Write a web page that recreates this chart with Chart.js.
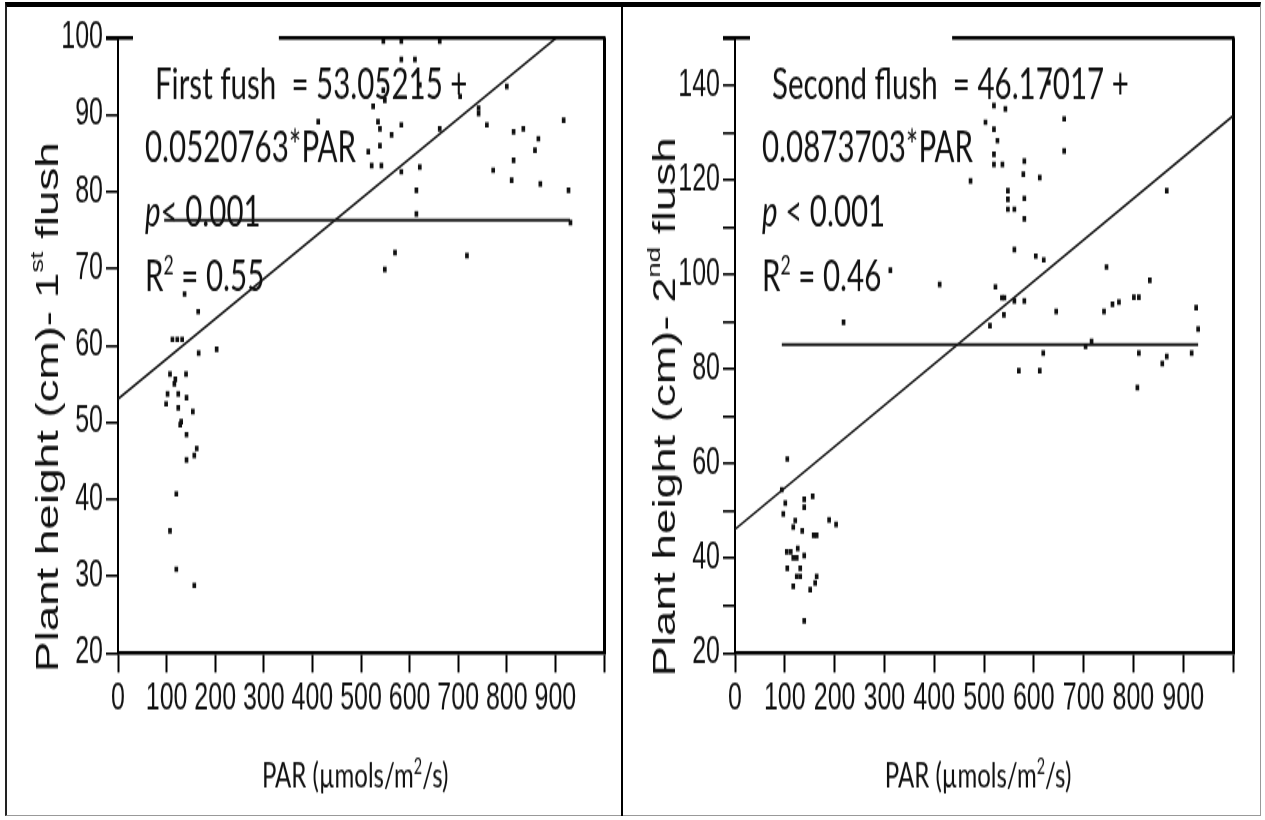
<!DOCTYPE html>
<html>
<head>
<meta charset="utf-8">
<script src="https://cdn.jsdelivr.net/npm/chart.js@4.4.1/dist/chart.umd.min.js"></script>
<style>
    html, body { margin: 0; padding: 0; background: #fff; }
    .page { position: relative; width: 1265px; height: 820px; overflow: hidden; }
    .frame {
        position: absolute; left: 5px; top: 2px; width: 1256px; height: 814px;
        box-sizing: border-box;
        border-top: 5px solid #000; border-left: 2px solid #222;
        border-right: 1px solid #999; border-bottom: 1px solid #999;
    }
    .divider { position: absolute; left: 621px; top: 2px; width: 2px; height: 814px; background: #000; }
    canvas { position: absolute; top: 0; }
</style>
</head>
<body>
<div class="page">
    <div class="frame"></div>
    <div class="divider"></div>
    <!-- the source figure is stretched 1.5x vertically, so the bitmaps are drawn 544 tall and shown 816 tall -->
    <canvas id="chart-first" width="615" height="544" style="left:7px;width:615px;height:816px"></canvas>
    <canvas id="chart-second" width="635" height="544" style="left:624px;width:635px;height:816px"></canvas>
</div>

<script>
// PAR (µmols/m2/s) and plant height (cm), first flush
const firstPar = [137, 165, 112, 122, 132, 166, 203, 107, 140, 118, 116, 102, 124, 141, 99, 124, 154, 130, 128, 141,
    162, 157, 141, 120, 107, 120, 157,
    546, 583, 662, 583, 611, 621, 546, 549, 525, 704, 800, 742, 742, 412, 535, 539, 583, 563, 662, 759,
    814, 834, 917, 865, 858, 539, 515, 522, 542, 583, 621, 814, 772, 810, 869, 927, 614, 614, 931, 570, 549, 718];
const firstHeight = [66.7, 64.4, 60.8, 60.8, 60.8, 59.0, 59.5, 56.3, 56.3, 55.6, 55.0, 53.7, 53.7, 53.2, 52.4, 51.9, 51.4, 50.1, 49.7, 48.4,
    46.6, 45.7, 45.1, 40.7, 35.9, 30.9, 28.8,
    99.6, 99.6, 99.6, 97.2, 97.2, 93.9, 93.2, 91.9, 91.1, 92.4, 93.7, 90.9, 90.2, 89.1, 89.1, 88.2, 88.7, 87.4, 88.2, 88.7,
    87.8, 88.2, 89.3, 86.9, 85.4, 86.0, 85.2, 83.4, 83.4, 82.6, 83.2, 84.1, 82.8, 81.5, 81.0, 80.2, 80.2, 77.1, 76.0, 72.1, 69.9, 71.7];

// second flush
const secondPar = [520, 543, 630, 661, 503, 520, 527, 520, 520, 537, 661, 581, 579, 612, 473, 548, 548, 581, 548, 561,
    581, 867, 561, 604, 620, 312, 411, 746, 833, 523, 536, 541, 561, 581, 645, 741, 758, 771, 801, 811,
    926, 540, 930, 218, 512, 704, 716, 619, 811, 867, 858, 917, 570, 612, 808,
    105, 94, 101, 97, 139, 139, 156, 121, 117, 135, 158, 164, 189, 203, 104, 112, 117, 124, 126, 139,
    105, 124, 131, 131, 164, 161, 117, 151, 139];
const secondHeight = [135.7, 135.0, 140.6, 132.9, 132.2, 130.7, 128.3, 125.4, 123.3, 123.3, 126.1, 124.0, 121.2, 120.5, 119.8, 117.7, 115.9, 116.1, 113.8, 113.8,
    111.8, 117.7, 105.3, 103.9, 103.1, 100.9, 97.9, 101.6, 98.8, 97.4, 95.1, 95.1, 94.4, 94.4, 92.2, 92.2, 93.7, 94.2, 95.2, 95.2,
    93.0, 91.5, 88.5, 89.9, 89.2, 84.8, 85.9, 83.4, 83.4, 82.7, 81.2, 83.4, 79.7, 79.7, 76.1,
    61.0, 54.5, 51.7, 49.4, 52.5, 50.8, 53.1, 48.0, 46.6, 45.8, 44.9, 44.9, 48.1, 47.2, 41.4, 41.4, 40.1, 40.1, 42.1, 40.6,
    37.9, 36.2, 36.2, 37.9, 36.2, 34.8, 34.1, 33.4, 26.8];

// fitted line and the flat line, read at their ends
const firstFitPar = [0, 1000];
const firstFitHeight = [53.05, 105.13];
const firstFlatPar = [95, 930];
const firstFlatHeight = [76.3, 76.3];
const secondFitPar = [0, 1000];
const secondFitHeight = [46.17, 133.54];
const secondFlatPar = [94, 930];
const secondFlatHeight = [85.2, 85.2];

// tick labels
const parLabels = [0, 100, 200, 300, 400, 500, 600, 700, 800, 900];
const firstHeightLabels = [20, 30, 40, 50, 60, 70, 80, 90, 100];
const secondHeightLabels = [20, 40, 60, 80, 100, 120, 140];

const noteFont = "Lato, 'Open Sans', sans-serif";
const axisFont = "'Liberation Sans', Arial, sans-serif";

Chart.defaults.color = '#111';
Chart.defaults.font.family = axisFont;

const points = (xs, ys) => xs.map((x, i) => ({x: x, y: ys[i]}));

function richWidth(ctx, parts, size, family) {
    let w = 0;
    parts.forEach(([text, kind]) => {
        ctx.font = `${kind === 'i' ? 'italic ' : ''}${kind === 'sup' ? size * 0.6 : size}px ${family}`;
        w += ctx.measureText(text).width;
    });
    return w;
}

function drawRich(ctx, parts, x, y, size, family) {
    parts.forEach(([text, kind]) => {
        ctx.font = `${kind === 'i' ? 'italic ' : ''}${kind === 'sup' ? size * 0.6 : size}px ${family}`;
        ctx.fillText(text, x, kind === 'sup' ? y - size * 0.38 : y);
        x += ctx.measureText(text).width;
    });
}

// equation box, axis titles and the broken top frame
const panelText = {
    id: 'panelText',
    afterDraw(chart, args, opts) {
        const {ctx, chartArea: area, scales: {x}} = chart;
        ctx.save();

        ctx.strokeStyle = '#000';
        ctx.lineWidth = 2.5;
        ctx.beginPath();
        ctx.moveTo(area.left - 12, area.top);
        ctx.lineTo(area.left + 15, area.top);
        ctx.moveTo(x.getPixelForValue(opts.frameFrom), area.top);
        ctx.lineTo(area.right + 1.5, area.top);
        ctx.stroke();

        ctx.fillStyle = '#111';
        ctx.textAlign = 'left';
        ctx.textBaseline = 'alphabetic';
        opts.lines.forEach((parts, i) => {
            drawRich(ctx, parts, area.left + (i === 0 ? 37 : 27), area.top + opts.baselines[i], 29.5, noteFont);
        });

        const xTitle = [['PAR (µmols/m', ''], ['2', 'sup'], ['/s)', '']];
        const xw = richWidth(ctx, xTitle, 24, noteFont);
        drawRich(ctx, xTitle, x.getPixelForValue(488) - xw / 2, area.bottom + 90, 24, noteFont);

        ctx.translate(area.left - 68, area.top + area.height * 0.6);
        ctx.rotate(-Math.PI / 2);
        ctx.textBaseline = 'middle';
        const yw = richWidth(ctx, opts.yTitle, 30.5, axisFont);
        drawRich(ctx, opts.yTitle, -yw / 2, 0, 30.5, axisFont);

        ctx.restore();
    }
};

function panelOptions(yMax, yLabels, rightPad, text) {
    return {
        responsive: false,
        animation: false,
        devicePixelRatio: 1,
        layout: { padding: { top: 25.33, right: rightPad, bottom: 0, left: 0 } },
        plugins: {
            legend: { display: false },
            tooltip: { enabled: false },
            panelText: text
        },
        scales: {
            x: {
                type: 'linear',
                min: 0,
                max: 1000,
                afterFit: (scale) => { scale.height = 108.67; },
                ticks: {
                    stepSize: 100,
                    autoSkip: false,
                    maxRotation: 0,
                    padding: 3,
                    color: '#111',
                    font: { size: 25 },
                    callback: (v) => parLabels.includes(v) ? v : ''
                },
                grid: {
                    drawOnChartArea: true,
                    color: (c) => c.tick && c.tick.value === 1000 ? '#000' : 'rgba(0,0,0,0)',
                    lineWidth: 3,
                    tickColor: '#000',
                    tickWidth: 2,
                    tickLength: 13
                },
                border: { color: '#000', width: 2.5 }
            },
            y: {
                min: 20,
                max: yMax,
                afterFit: (scale) => { scale.width = 111; },
                ticks: {
                    stepSize: 10,
                    autoSkip: false,
                    padding: 3,
                    color: '#111',
                    font: { size: 25 },
                    callback: (v) => yLabels.includes(v) ? v : ''
                },
                grid: {
                    drawOnChartArea: false,
                    color: '#000',
                    lineWidth: 1.6,
                    tickLength: 12
                },
                border: { color: '#000', width: 2 }
            }
        }
    };
}

function panelData(par, height, fitPar, fitHeight, flatPar, flatHeight) {
    return {
        datasets: [
            {
                data: points(par, height),
                pointStyle: 'rect',
                pointRadius: 2.6,
                pointBackgroundColor: '#111',
                pointBorderWidth: 0
            },
            {
                type: 'line',
                data: points(fitPar, fitHeight),
                borderColor: '#1a1a1a',
                borderWidth: 1.6,
                pointRadius: 0,
                fill: false
            },
            {
                type: 'line',
                data: points(flatPar, flatHeight),
                borderColor: '#1a1a1a',
                borderWidth: 2,
                pointRadius: 0,
                fill: false
            }
        ]
    };
}

const chartFirst = new Chart(document.getElementById('chart-first'), {
    type: 'scatter',
    data: panelData(firstPar, firstHeight, firstFitPar, firstFitHeight, firstFlatPar, firstFlatHeight),
    options: panelOptions(100, firstHeightLabels, 18, {
        frameFrom: 331,
        baselines: [41, 83, 126, 169],
        lines: [
            [['First fush  = 53.05215 +', '']],
            [['0.0520763*PAR', '']],
            [['p', 'i'], ['< 0.001', '']],
            [['R', ''], ['2', 'sup'], [' = 0.55', '']]
        ],
        yTitle: [['Plant height (cm)- 1', ''], ['st', 'sup'], [' flush', '']]
    }),
    plugins: [panelText]
});

const chartSecond = new Chart(document.getElementById('chart-second'), {
    type: 'scatter',
    data: panelData(secondPar, secondHeight, secondFitPar, secondFitHeight, secondFlatPar, secondFlatHeight),
    options: panelOptions(150, secondHeightLabels, 26, {
        frameFrom: 436,
        baselines: [41, 83, 126, 169],
        lines: [
            [['Second flush  = 46.17017 +', '']],
            [['0.0873703*PAR', '']],
            [['p', 'i'], [' < 0.001', '']],
            [['R', ''], ['2', 'sup'], [' = 0.46', '']]
        ],
        yTitle: [['Plant height (cm)- 2', ''], ['nd', 'sup'], [' flush', '']]
    }),
    plugins: [panelText]
});
</script>
</body>
</html>
